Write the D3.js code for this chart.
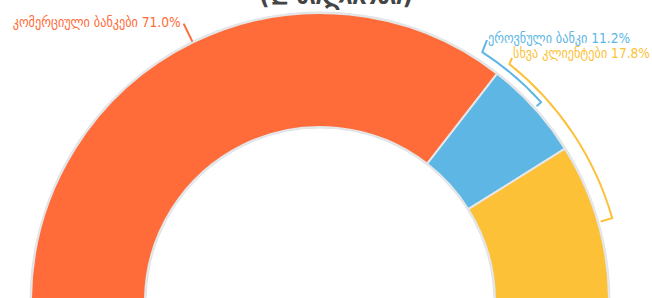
<!DOCTYPE html>
<html><head><meta charset="utf-8">
<script src="https://cdn.jsdelivr.net/npm/d3@7"></script>
<style>html,body{margin:0;padding:0;background:#fff;}svg{display:block;}</style>
</head><body>
<svg id="chart" width="652" height="298"></svg>
<script>
const categories = ["კომერციული ბანკები", "ეროვნული ბანკი", "სხვა კლიენტები"];
const values = [71.0, 11.2, 17.8];
const colors = ["#FF6B39", "#5DB6E3", "#FDC137"];
const titleText = "(₾ მილიონი)";

const svg = d3.select("#chart");
const cx = 320, cy = 302, R = 289, r0 = 175;
const font = "'DejaVu Sans Condensed','DejaVu Sans',sans-serif";

svg.append("text").attr("x", 336).attr("y", 4).attr("text-anchor", "middle")
  .attr("font-family", font).attr("font-weight", "bold").attr("font-size", 25)
  .attr("fill", "#444").text(titleText);

const data = categories.map((c, i) => ({name: c, value: values[i], color: colors[i]}));
const pie = d3.pie().value(d => d.value).sort(null).startAngle(-Math.PI/2).endAngle(Math.PI/2);
const arcs = pie(data);
const arc = d3.arc().innerRadius(r0).outerRadius(R);
const g = svg.append("g").attr("transform", `translate(${cx},${cy})`);

g.append("path").attr("d", d3.arc().innerRadius(r0 - 1.5).outerRadius(R + 1.5).startAngle(-Math.PI/2).endAngle(Math.PI/2)())
  .attr("fill", "#dfe3e6");
g.selectAll("path.slice").data(arcs).join("path").attr("class", "slice")
  .attr("d", arc).attr("fill", d => d.data.color)
  .attr("stroke", "#e4e6e8").attr("stroke-width", 2);

const pt = (a, rad) => [rad * Math.sin(a), -rad * Math.cos(a)];
const fmt = v => v.toFixed(1) + "%";
const fs = 13.6;

{
  const a = (arcs[0].startAngle + arcs[0].endAngle) / 2;
  const p1 = pt(a, R + 1), p2 = pt(a, R + 21);
  g.append("line").attr("x1", p1[0]).attr("y1", p1[1]).attr("x2", p2[0]).attr("y2", p2[1])
    .attr("stroke", colors[0]).attr("stroke-width", 2);
  g.append("text").attr("x", p2[0] - 3).attr("y", p2[1] + 3).attr("text-anchor", "end")
    .attr("font-family", font).attr("font-size", fs).attr("fill", colors[0])
    .text(categories[0] + " " + fmt(values[0]));
}
const leaders = [
  {i: 1, rr: 298, a0: 33 * Math.PI / 180, lx: 487, ly: 40, ty: 43},
  {i: 2, rr: 304, a0: 38.5 * Math.PI / 180, lx: 512, ly: 58, ty: 58}
];
leaders.forEach(L => {
  const d = arcs[L.i];
  const am = (d.startAngle + d.endAngle) / 2;
  const path = d3.path();
  const t = pt(am, R + 3);
  path.moveTo(t[0], t[1]);
  const s = pt(am, L.rr);
  path.lineTo(s[0], s[1]);
  path.arc(0, 0, L.rr, am - Math.PI/2, L.a0 - Math.PI/2, true);
  path.lineTo(L.lx - cx, L.ly - cy);
  g.append("path").attr("d", path.toString()).attr("fill", "none")
    .attr("stroke", colors[L.i]).attr("stroke-width", 2);
  svg.append("text").attr("x", L.lx + 1).attr("y", L.ty).attr("text-anchor", "start")
    .attr("font-family", font).attr("font-size", fs).attr("fill", colors[L.i])
    .text(categories[L.i] + " " + fmt(values[L.i]));
});
</script>
</body></html>
